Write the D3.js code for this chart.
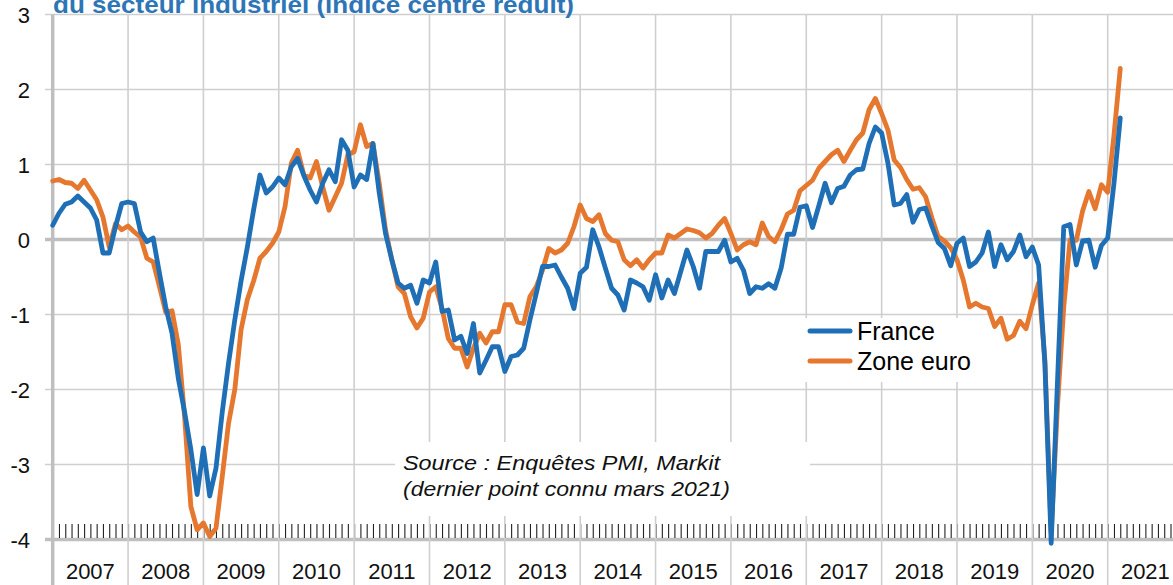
<!DOCTYPE html>
<html>
<head>
<meta charset="utf-8">
<script src="https://cdn.jsdelivr.net/npm/d3@7"></script>
<style>
  html, body { margin: 0; padding: 0; background: #fff; overflow: hidden; }
  svg { display: block; }
</style>
</head>
<body>
<svg id="chart" width="1173" height="585"></svg>
<script>
// ---- Data (monthly, Jan 2007 .. Mar 2021) ----
const yearLabels = ["2007","2008","2009","2010","2011","2012","2013","2014","2015","2016","2017","2018","2019","2020","2021"];
const yTicks = [3, 2, 1, 0, -1, -2, -3, -4];
const seriesNames = ["France", "Zone euro"];

const france = [
  0.19, 0.35, 0.47, 0.50, 0.58, 0.50, 0.42, 0.26, -0.18, -0.18, 0.17, 0.48,
  0.50, 0.48, 0.10, -0.03, 0.02, -0.45, -0.90, -1.25, -1.85, -2.30, -2.80, -3.40,
  -2.78, -3.42, -3.05, -2.30, -1.65, -1.07, -0.55, -0.10, 0.40, 0.86, 0.62, 0.70,
  0.82, 0.73, 0.97, 1.08, 0.85, 0.66, 0.50, 0.75, 0.93, 0.77, 1.33, 1.19,
  0.70, 0.86, 0.80, 1.28, 0.62, 0.08, -0.27, -0.58, -0.65, -0.61, -0.85, -0.54,
  -0.58, -0.30, -0.96, -0.94, -1.34, -1.29, -1.52, -1.12, -1.78, -1.61, -1.43, -1.43,
  -1.76, -1.56, -1.54, -1.45, -1.07, -0.72, -0.36, -0.36, -0.34, -0.50, -0.65, -0.92,
  -0.45, -0.37, 0.13, -0.10, -0.38, -0.65, -0.74, -0.94, -0.54, -0.58, -0.63, -0.81,
  -0.47, -0.78, -0.54, -0.72, -0.43, -0.14, -0.36, -0.65, -0.16, -0.16, -0.16, -0.01,
  -0.30, -0.25, -0.41, -0.72, -0.63, -0.65, -0.59, -0.65, -0.38, 0.07, 0.07, 0.43,
  0.45, 0.16, 0.45, 0.75, 0.49, 0.68, 0.71, 0.86, 0.93, 0.94, 1.28, 1.50,
  1.42, 1.02, 0.46, 0.48, 0.60, 0.23, 0.40, 0.42, 0.18, -0.04, -0.12, -0.35,
  -0.05, 0.02, -0.36, -0.30, -0.18, 0.10, -0.36, -0.07, -0.27, -0.16, 0.06, -0.23,
  -0.10, -0.34, -1.66, -4.05, -1.90, 0.17, 0.20, -0.34, -0.02, -0.01, -0.37, -0.08,
  0.02, 0.75, 1.62
];

const zoneEuro = [
  0.78, 0.80, 0.76, 0.75, 0.68, 0.79, 0.66, 0.53, 0.30, -0.10, 0.21, 0.13,
  0.18, 0.10, 0.03, -0.25, -0.30, -0.63, -0.97, -0.95, -1.40, -2.36, -3.56, -3.87,
  -3.78, -3.96, -3.85, -3.16, -2.45, -2.00, -1.20, -0.80, -0.55, -0.25, -0.16, -0.05,
  0.10, 0.44, 1.02, 1.19, 0.86, 0.82, 1.04, 0.70, 0.39, 0.57, 0.75, 1.13,
  1.17, 1.53, 1.24, 1.28, 0.75, 0.13, -0.27, -0.63, -0.72, -1.03, -1.18, -1.05,
  -0.70, -0.63, -0.92, -1.32, -1.45, -1.45, -1.70, -1.45, -1.25, -1.38, -1.23, -1.23,
  -0.87, -0.87, -1.10, -1.12, -0.76, -0.63, -0.41, -0.12, -0.18, -0.14, -0.05, 0.17,
  0.46, 0.28, 0.24, 0.33, 0.08, -0.01, -0.03, -0.27, -0.35, -0.27, -0.38, -0.27,
  -0.18, -0.18, 0.06, 0.02, 0.08, 0.14, 0.12, 0.09, 0.02, 0.08, 0.19, 0.28,
  0.08, -0.14, -0.07, -0.03, -0.07, 0.22, 0.04, -0.03, 0.13, 0.34, 0.39, 0.65,
  0.72, 0.79, 0.95, 1.04, 1.13, 1.19, 1.04, 1.19, 1.33, 1.42, 1.73, 1.88,
  1.68, 1.46, 1.06, 0.96, 0.80, 0.67, 0.69, 0.57, 0.29, 0.04, -0.02, -0.11,
  -0.27, -0.54, -0.90, -0.85, -0.90, -0.92, -1.16, -1.05, -1.33, -1.28, -1.09, -1.19,
  -0.87, -0.58, -1.61, -3.90, -2.23, -0.90, -0.01, -0.01, 0.38, 0.64, 0.41, 0.73,
  0.63, 1.39, 2.28
];

const titleText = "du secteur industriel (indice centré réduit)";
const sourceLines = ["Source : Enquêtes PMI, Markit", "(dernier point connu mars 2021)"];

// ---- Layout ----
const W = 1173, H = 585;
const svg = d3.select("#chart");

const x = d3.scaleLinear().domain([0, 168]).range([52.7, 1107.7]);
const y = d3.scaleLinear().domain([-4, 3]).range([539.5, 14.5]);

const blue = "#1F6FB7";
const orange = "#E6772E";
const gridColor = "#CFCFCF";
const axisColor = "#BFBFBF";

// Horizontal gridlines
svg.append("g").selectAll("line").data(yTicks).join("line")
  .attr("x1", 45).attr("x2", W)
  .attr("y1", d => y(d)).attr("y2", d => y(d))
  .attr("stroke", d => (d === 0 || d === -4) ? axisColor : gridColor)
  .attr("stroke-width", d => (d === 0 || d === -4) ? 3.5 : 1.6);

// Monthly minor ticks (above bottom axis)
const monthTicks = d3.range(0, 181);
const tickAxis = d3.axisTop(x).tickValues(monthTicks).tickSize(14).tickFormat("");
const tg = svg.append("g").attr("transform", `translate(0,${y(-4) - 1.5})`).call(tickAxis);
tg.select(".domain").remove();
tg.selectAll(".tick line").attr("stroke", "#222").attr("stroke-width", 1.1);

// Vertical year gridlines
const yearStarts = d3.range(0, yearLabels.length + 1).map(k => k * 12);
svg.append("g").selectAll("line").data(yearStarts).join("line")
  .attr("x1", d => x(d)).attr("x2", d => x(d))
  .attr("y1", y(3)).attr("y2", H)
  .attr("stroke", d => d === 0 ? axisColor : gridColor)
  .attr("stroke-width", d => d === 0 ? 3.5 : 1.6);

// Y axis labels
const ya = d3.axisLeft(y).tickValues(yTicks).tickSize(0).tickPadding(0)
  .tickFormat(d => d < 0 ? "-" + Math.abs(d) : String(d));
const yg = svg.append("g").attr("transform", "translate(30,0)").call(ya);
yg.select(".domain").remove();
yg.selectAll("text").attr("font-family", "Liberation Sans, Arial, sans-serif")
  .attr("font-size", 22).attr("fill", "#111").attr("dy", "0.36em");

// Year labels
svg.append("g").selectAll("text").data(yearLabels).join("text")
  .attr("x", (d, i) => x(i * 12 + 6))
  .attr("y", 579)
  .attr("text-anchor", "middle")
  .attr("font-family", "Liberation Sans, Arial, sans-serif")
  .attr("font-size", 22)
  .attr("fill", "#111")
  .text(d => d);

// Source box
svg.append("rect").attr("x", 395).attr("y", 442).attr("width", 415).attr("height", 74).attr("fill", "#fff");
svg.append("g").selectAll("text").data(sourceLines).join("text")
  .attr("x", 403)
  .attr("y", (d, i) => 470 + i * 26)
  .attr("font-family", "Liberation Sans, Arial, sans-serif")
  .attr("font-style", "italic")
  .attr("font-size", 21)
  .attr("fill", "#111")
  .attr("textLength", (d, i) => i === 0 ? 317 : 327)
  .attr("lengthAdjust", "spacingAndGlyphs")
  .text(d => d);

// Legend box
svg.append("rect").attr("x", 805).attr("y", 318).attr("width", 173).attr("height", 64).attr("fill", "#fff");

// Lines
const line = d3.line().x((d, i) => x(i)).y(d => y(d));
[[zoneEuro, orange], [france, blue]].forEach(([data, col]) => {
  svg.append("path").datum(data)
    .attr("d", line)
    .attr("fill", "none")
    .attr("stroke", col)
    .attr("stroke-width", 4.8)
    .attr("stroke-linejoin", "round")
    .attr("stroke-linecap", "round");
});

// Legend
const legendColors = [blue, orange];
const lg = svg.append("g");
seriesNames.forEach((name, i) => {
  const ly = 331 + i * 30;
  lg.append("line").attr("x1", 810).attr("x2", 850).attr("y1", ly).attr("y2", ly)
    .attr("stroke", legendColors[i]).attr("stroke-width", 5).attr("stroke-linecap", "round");
  lg.append("text").attr("x", 857).attr("y", ly + 9)
    .attr("font-family", "Liberation Sans, Arial, sans-serif")
    .attr("font-size", 25).attr("fill", "#000").text(name);
});

// Title (partially cut at top, as in the original)
svg.append("text")
  .attr("x", 53).attr("y", 13)
  .attr("font-family", "Liberation Sans, Arial, sans-serif")
  .attr("font-weight", "bold")
  .attr("font-size", 24)
  .attr("fill", "#2E75B6")
  .attr("textLength", 521)
  .attr("lengthAdjust", "spacingAndGlyphs")
  .text(titleText);
</script>
</body>
</html>
